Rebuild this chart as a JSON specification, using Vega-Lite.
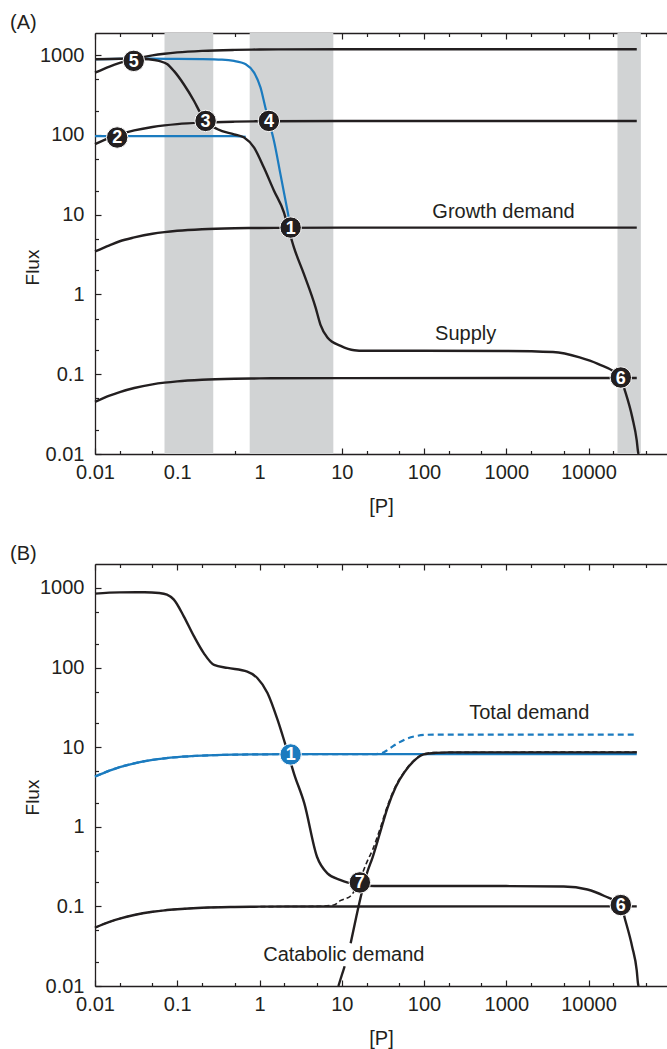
{
  "$schema": "https://vega.github.io/schema/vega-lite/v6.json",
  "padding": {"left": 10, "top": 13, "right": 0, "bottom": 5},
  "background": "white",
  "spacing": 110,
  "bounds": "flush",
  "datasets": {
    "bands": [
      {"x": 0.07, "x2": 0.274},
      {"x": 0.76, "x2": 7.9},
      {"x": 22500, "x2": 43300}
    ],
    "curves": [
      {"p":"A","s":"t1200","x":0.01,"y":604},{"p":"A","s":"t1200","x":0.015,"y":722},{"p":"A","s":"t1200","x":0.02,"y":801},{"p":"A","s":"t1200","x":0.03,"y":899},{"p":"A","s":"t1200","x":0.05,"y":997},{"p":"A","s":"t1200","x":0.07,"y":1045},{"p":"A","s":"t1200","x":0.1,"y":1085},{"p":"A","s":"t1200","x":0.2,"y":1135},{"p":"A","s":"t1200","x":0.5,"y":1167},{"p":"A","s":"t1200","x":1,"y":1179},{"p":"A","s":"t1200","x":10,"y":1189},{"p":"A","s":"t1200","x":38600,"y":1190},
      {"p":"A","s":"t150","x":0.01,"y":77},{"p":"A","s":"t150","x":0.015,"y":92},{"p":"A","s":"t150","x":0.02,"y":102},{"p":"A","s":"t150","x":0.03,"y":114},{"p":"A","s":"t150","x":0.05,"y":126},{"p":"A","s":"t150","x":0.07,"y":132},{"p":"A","s":"t150","x":0.1,"y":137},{"p":"A","s":"t150","x":0.2,"y":143},{"p":"A","s":"t150","x":0.5,"y":147},{"p":"A","s":"t150","x":1,"y":148.6},{"p":"A","s":"t150","x":10,"y":150},{"p":"A","s":"t150","x":38600,"y":150},
      {"p":"A","s":"grow","x":0.01,"y":3.47},{"p":"A","s":"grow","x":0.015,"y":4.14},{"p":"A","s":"grow","x":0.02,"y":4.65},{"p":"A","s":"grow","x":0.03,"y":5.19},{"p":"A","s":"grow","x":0.05,"y":5.78},{"p":"A","s":"grow","x":0.07,"y":6.06},{"p":"A","s":"grow","x":0.1,"y":6.29},{"p":"A","s":"grow","x":0.2,"y":6.58},{"p":"A","s":"grow","x":0.5,"y":6.77},{"p":"A","s":"grow","x":1,"y":6.83},{"p":"A","s":"grow","x":10,"y":6.89},{"p":"A","s":"grow","x":38600,"y":6.9},
      {"p":"A","s":"low","x":0.01,"y":0.045},{"p":"A","s":"low","x":0.015,"y":0.0538},{"p":"A","s":"low","x":0.02,"y":0.0598},{"p":"A","s":"low","x":0.03,"y":0.0672},{"p":"A","s":"low","x":0.05,"y":0.0747},{"p":"A","s":"low","x":0.07,"y":0.0784},{"p":"A","s":"low","x":0.1,"y":0.0815},{"p":"A","s":"low","x":0.2,"y":0.0853},{"p":"A","s":"low","x":0.5,"y":0.0878},{"p":"A","s":"low","x":1,"y":0.0887},{"p":"A","s":"low","x":10,"y":0.0895},{"p":"A","s":"low","x":38600,"y":0.0896},
      {"p":"A","s":"sup","x":0.01,"y":890},{"p":"A","s":"sup","x":0.02,"y":905},{"p":"A","s":"sup","x":0.03,"y":905},{"p":"A","s":"sup","x":0.045,"y":890},{"p":"A","s":"sup","x":0.06,"y":850},{"p":"A","s":"sup","x":0.076,"y":771},{"p":"A","s":"sup","x":0.091,"y":636},{"p":"A","s":"sup","x":0.12,"y":433},{"p":"A","s":"sup","x":0.16,"y":267},{"p":"A","s":"sup","x":0.19,"y":191},{"p":"A","s":"sup","x":0.22,"y":150},{"p":"A","s":"sup","x":0.31,"y":118},{"p":"A","s":"sup","x":0.49,"y":102},{"p":"A","s":"sup","x":0.65,"y":93},{"p":"A","s":"sup","x":0.86,"y":69.5},{"p":"A","s":"sup","x":1.13,"y":39},{"p":"A","s":"sup","x":1.5,"y":20},{"p":"A","s":"sup","x":1.98,"y":10.7},{"p":"A","s":"sup","x":2.23,"y":6.9},{"p":"A","s":"sup","x":2.62,"y":3.9},{"p":"A","s":"sup","x":3.47,"y":1.8},{"p":"A","s":"sup","x":4.8,"y":0.69},{"p":"A","s":"sup","x":5.5,"y":0.42},{"p":"A","s":"sup","x":6.7,"y":0.289},{"p":"A","s":"sup","x":9.7,"y":0.227},{"p":"A","s":"sup","x":14.2,"y":0.2},{"p":"A","s":"sup","x":18.7,"y":0.197},{"p":"A","s":"sup","x":100,"y":0.197},{"p":"A","s":"sup","x":1000,"y":0.196},{"p":"A","s":"sup","x":3700,"y":0.19},{"p":"A","s":"sup","x":7800,"y":0.163},{"p":"A","s":"sup","x":13000,"y":0.135},{"p":"A","s":"sup","x":24700,"y":0.091},{"p":"A","s":"sup","x":27000,"y":0.068},{"p":"A","s":"sup","x":34000,"y":0.029},{"p":"A","s":"sup","x":38600,"y":0.0147},{"p":"A","s":"sup","x":40000,"y":0.0107},{"p":"A","s":"sup","x":40500,"y":0.01},
      {"p":"A","s":"bhi","x":0.01,"y":890},{"p":"A","s":"bhi","x":0.02,"y":900},{"p":"A","s":"bhi","x":0.05,"y":905},{"p":"A","s":"bhi","x":0.1,"y":900},{"p":"A","s":"bhi","x":0.2,"y":895},{"p":"A","s":"bhi","x":0.35,"y":880},{"p":"A","s":"bhi","x":0.49,"y":848},{"p":"A","s":"bhi","x":0.6,"y":810},{"p":"A","s":"bhi","x":0.68,"y":770},{"p":"A","s":"bhi","x":0.86,"y":605},{"p":"A","s":"bhi","x":1.03,"y":392},{"p":"A","s":"bhi","x":1.18,"y":220},{"p":"A","s":"bhi","x":1.3,"y":150},{"p":"A","s":"bhi","x":1.5,"y":84},{"p":"A","s":"bhi","x":1.8,"y":32},{"p":"A","s":"bhi","x":2.15,"y":12.3},{"p":"A","s":"bhi","x":2.39,"y":6.9},
      {"p":"A","s":"blo","x":0.01,"y":97},{"p":"A","s":"blo","x":0.1,"y":97},{"p":"A","s":"blo","x":0.5,"y":97},{"p":"A","s":"blo","x":0.68,"y":95},
      {"p":"B","s":"sup","x":0.01,"y":850},{"p":"B","s":"sup","x":0.02,"y":880},{"p":"B","s":"sup","x":0.04,"y":885},{"p":"B","s":"sup","x":0.06,"y":865},{"p":"B","s":"sup","x":0.075,"y":824},{"p":"B","s":"sup","x":0.091,"y":713},{"p":"B","s":"sup","x":0.12,"y":440},{"p":"B","s":"sup","x":0.16,"y":246},{"p":"B","s":"sup","x":0.21,"y":152},{"p":"B","s":"sup","x":0.28,"y":108},{"p":"B","s":"sup","x":0.41,"y":99},{"p":"B","s":"sup","x":0.71,"y":89},{"p":"B","s":"sup","x":0.94,"y":74},{"p":"B","s":"sup","x":1.25,"y":48},{"p":"B","s":"sup","x":1.66,"y":22},{"p":"B","s":"sup","x":1.98,"y":12.4},{"p":"B","s":"sup","x":2.25,"y":8.0},{"p":"B","s":"sup","x":2.62,"y":4.7},{"p":"B","s":"sup","x":3.5,"y":1.98},{"p":"B","s":"sup","x":5.0,"y":0.42},{"p":"B","s":"sup","x":6.7,"y":0.26},{"p":"B","s":"sup","x":9.7,"y":0.214},{"p":"B","s":"sup","x":11.6,"y":0.2},{"p":"B","s":"sup","x":16.6,"y":0.185},{"p":"B","s":"sup","x":25,"y":0.18},{"p":"B","s":"sup","x":100,"y":0.18},{"p":"B","s":"sup","x":1000,"y":0.18},{"p":"B","s":"sup","x":5000,"y":0.178},{"p":"B","s":"sup","x":9700,"y":0.163},{"p":"B","s":"sup","x":15600,"y":0.135},{"p":"B","s":"sup","x":24700,"y":0.104},{"p":"B","s":"sup","x":28000,"y":0.067},{"p":"B","s":"sup","x":34000,"y":0.031},{"p":"B","s":"sup","x":38600,"y":0.0156},{"p":"B","s":"sup","x":40000,"y":0.0107},{"p":"B","s":"sup","x":40500,"y":0.01},
      {"p":"B","s":"ghi","x":0.01,"y":4.27},{"p":"B","s":"ghi","x":0.015,"y":5.08},{"p":"B","s":"ghi","x":0.02,"y":5.62},{"p":"B","s":"ghi","x":0.03,"y":6.27},{"p":"B","s":"ghi","x":0.05,"y":6.93},{"p":"B","s":"ghi","x":0.07,"y":7.25},{"p":"B","s":"ghi","x":0.1,"y":7.51},{"p":"B","s":"ghi","x":0.2,"y":7.84},{"p":"B","s":"ghi","x":0.5,"y":8.05},{"p":"B","s":"ghi","x":1,"y":8.13},{"p":"B","s":"ghi","x":10,"y":8.19},{"p":"B","s":"ghi","x":38600,"y":8.2},
      {"p":"B","s":"thi","x":0.01,"y":4.27},{"p":"B","s":"thi","x":0.015,"y":5.08},{"p":"B","s":"thi","x":0.02,"y":5.62},{"p":"B","s":"thi","x":0.03,"y":6.27},{"p":"B","s":"thi","x":0.05,"y":6.93},{"p":"B","s":"thi","x":0.07,"y":7.25},{"p":"B","s":"thi","x":0.1,"y":7.51},{"p":"B","s":"thi","x":0.2,"y":7.84},{"p":"B","s":"thi","x":0.5,"y":8.05},{"p":"B","s":"thi","x":1,"y":8.13},{"p":"B","s":"thi","x":10,"y":8.19},{"p":"B","s":"thi","x":25,"y":8.2},{"p":"B","s":"thi","x":30,"y":8.35},{"p":"B","s":"thi","x":36,"y":9.2},{"p":"B","s":"thi","x":42,"y":10.3},{"p":"B","s":"thi","x":50,"y":11.5},{"p":"B","s":"thi","x":63,"y":12.9},{"p":"B","s":"thi","x":80,"y":13.8},{"p":"B","s":"thi","x":107,"y":14.3},{"p":"B","s":"thi","x":150,"y":14.4},{"p":"B","s":"thi","x":38600,"y":14.4},
      {"p":"B","s":"glo","x":0.01,"y":0.054},{"p":"B","s":"glo","x":0.015,"y":0.0638},{"p":"B","s":"glo","x":0.02,"y":0.0702},{"p":"B","s":"glo","x":0.03,"y":0.078},{"p":"B","s":"glo","x":0.05,"y":0.0855},{"p":"B","s":"glo","x":0.07,"y":0.0892},{"p":"B","s":"glo","x":0.1,"y":0.0921},{"p":"B","s":"glo","x":0.2,"y":0.096},{"p":"B","s":"glo","x":0.5,"y":0.0983},{"p":"B","s":"glo","x":1,"y":0.0992},{"p":"B","s":"glo","x":10,"y":0.0999},{"p":"B","s":"glo","x":38600,"y":0.1},
      {"p":"B","s":"tlo","x":0.01,"y":0.054},{"p":"B","s":"tlo","x":0.015,"y":0.0638},{"p":"B","s":"tlo","x":0.02,"y":0.0702},{"p":"B","s":"tlo","x":0.03,"y":0.078},{"p":"B","s":"tlo","x":0.05,"y":0.0855},{"p":"B","s":"tlo","x":0.07,"y":0.0892},{"p":"B","s":"tlo","x":0.1,"y":0.0921},{"p":"B","s":"tlo","x":0.2,"y":0.096},{"p":"B","s":"tlo","x":0.5,"y":0.0983},{"p":"B","s":"tlo","x":1,"y":0.0992},{"p":"B","s":"tlo","x":5,"y":0.1},{"p":"B","s":"tlo","x":8,"y":0.104},{"p":"B","s":"tlo","x":9.6,"y":0.118},{"p":"B","s":"tlo","x":12.83,"y":0.135},{"p":"B","s":"tlo","x":15.18,"y":0.178},{"p":"B","s":"tlo","x":17.46,"y":0.247},{"p":"B","s":"tlo","x":20.09,"y":0.355},{"p":"B","s":"tlo","x":23.77,"y":0.517},{"p":"B","s":"tlo","x":28.9,"y":0.911},{"p":"B","s":"tlo","x":35.9,"y":1.82},{"p":"B","s":"tlo","x":45.3,"y":3.27},{"p":"B","s":"tlo","x":58.2,"y":4.99},{"p":"B","s":"tlo","x":75.5,"y":6.83},{"p":"B","s":"tlo","x":99.1,"y":8.21},{"p":"B","s":"tlo","x":138.7,"y":8.58},{"p":"B","s":"tlo","x":38600,"y":8.7},
      {"p":"B","s":"cat1","x":9.1,"y":0.01},{"p":"B","s":"cat1","x":10.84,"y":0.0177},
      {"p":"B","s":"cat2","x":12.83,"y":0.0345},{"p":"B","s":"cat2","x":15.18,"y":0.0778},{"p":"B","s":"cat2","x":17.46,"y":0.147},{"p":"B","s":"cat2","x":20.09,"y":0.255},{"p":"B","s":"cat2","x":23.77,"y":0.417},{"p":"B","s":"cat2","x":28.9,"y":0.811},{"p":"B","s":"cat2","x":35.9,"y":1.72},{"p":"B","s":"cat2","x":45.3,"y":3.17},{"p":"B","s":"cat2","x":58.2,"y":4.89},{"p":"B","s":"cat2","x":75.5,"y":6.73},{"p":"B","s":"cat2","x":99.1,"y":8.11},{"p":"B","s":"cat2","x":138.7,"y":8.48},{"p":"B","s":"cat2","x":200,"y":8.6},{"p":"B","s":"cat2","x":38600,"y":8.6}
    ],
    "pts": [
      {"p":"A","n":"5","x":0.0296,"y":850},
      {"p":"A","n":"2","x":0.0186,"y":93},
      {"p":"A","n":"3","x":0.221,"y":150},
      {"p":"A","n":"4","x":1.3,"y":150},
      {"p":"A","n":"1","x":2.39,"y":6.9},
      {"p":"A","n":"6","x":24700,"y":0.091},
      {"p":"B","n":"1","x":2.39,"y":8.1},
      {"p":"B","n":"7","x":16.6,"y":0.2},
      {"p":"B","n":"6","x":24700,"y":0.104}
    ],
    "notes": [
      {"p":"A","t":"Growth demand","x":925,"y":10.7},
      {"p":"A","t":"Supply","x":321,"y":0.322},
      {"p":"B","t":"Total demand","x":1905,"y":27.2},
      {"p":"B","t":"Catabolic demand","x":10.6,"y":0.0244}
    ]
  },
  "vconcat": [
    {
      "width": 572,
      "height": 421,
      "title": {"text": "(A)", "anchor": "start", "frame": "group", "dx": -85, "dy": 20, "offset": 3, "baseline": "alphabetic", "fontSize": 20, "fontWeight": "normal", "font": "Liberation Sans", "color": "#231f20"},
      "resolve": {"axis": {"x": "independent", "y": "independent"}},
      "layer": [
        {
          "data": {"name": "bands"},
          "mark": {"type": "rect", "color": "#d1d3d4"},
          "encoding": {
            "x": {"field": "x", "type": "quantitative", "scale": {"type": "log", "domain": [0.01, 90000], "nice": false},
              "axis": {"orient": "bottom", "values": [0.01,0.02,0.05,0.1,0.2,0.5,1,2,5,10,20,50,100,200,500,1000,2000,5000,10000,20000,50000],
                "labelExpr": "abs(log(datum.value)/LN10-round(log(datum.value)/LN10))<0.001 ? ''+datum.value : ''",
                "tickSize": {"condition": {"test": "abs(log(datum.value)/LN10-round(log(datum.value)/LN10))<0.001", "value": -6}, "value": -3.5},
                "labelPadding": 14, "labelFlush": false, "labelOverlap": false,
                "title": "[P]", "titleY": 58, "titleBaseline": "alphabetic", "titleFontSize": 20}},
            "x2": {"field": "x2"}
          }
        },
        {
          "data": {"name": "curves"},
          "transform": [{"filter": "datum.p === 'A' && (datum.s === 'bhi' || datum.s === 'blo')"}],
          "mark": {"type": "line", "color": "#1b7bbf", "strokeWidth": 2.2, "interpolate": "monotone"},
          "encoding": {
            "x": {"field": "x", "type": "quantitative", "scale": {"type": "log", "domain": [0.01, 90000], "nice": false},
              "axis": {"orient": "top", "values": [0.01,0.02,0.05,0.1,0.2,0.5,1,2,5,10,20,50,100,200,500,1000,2000,5000,10000,20000,50000],
                "labels": false, "title": null,
                "tickSize": {"condition": {"test": "abs(log(datum.value)/LN10-round(log(datum.value)/LN10))<0.001", "value": -6}, "value": -3.5}}},
            "y": {"field": "y", "type": "quantitative", "scale": {"type": "log", "domain": [0.01, 1900], "nice": false},
              "axis": {"orient": "left", "values": [0.01,0.02,0.05,0.1,0.2,0.5,1,2,5,10,20,50,100,200,500,1000],
                "labelExpr": "abs(log(datum.value)/LN10-round(log(datum.value)/LN10))<0.001 ? ''+datum.value : ''",
                "tickSize": {"condition": {"test": "abs(log(datum.value)/LN10-round(log(datum.value)/LN10))<0.001", "value": -6}, "value": -3.5},
                "labelPadding": 17, "labelOverlap": false, "labelFlush": false,
                "title": "Flux", "titleX": -57, "titleY": 234, "titleBaseline": "alphabetic", "titleAlign": "center"}},
            "detail": {"field": "s"}
          }
        },
        {
          "data": {"name": "curves"},
          "transform": [{"filter": "datum.p === 'A' && datum.s !== 'bhi' && datum.s !== 'blo'"}],
          "mark": {"type": "line", "color": "#231f20", "strokeWidth": 2.4, "interpolate": "monotone"},
          "encoding": {
            "x": {"field": "x", "type": "quantitative", "axis": null},
            "y": {"field": "y", "type": "quantitative", "axis": null},
            "detail": {"field": "s"}
          }
        },
        {
          "data": {"name": "pts"},
          "transform": [{"filter": "datum.p === 'A'"}],
          "mark": {"type": "point", "shape": "circle", "filled": true, "size": 460, "opacity": 1, "fill": "#231f20", "stroke": "white", "strokeWidth": 1},
          "encoding": {
            "x": {"field": "x", "type": "quantitative", "axis": null},
            "y": {"field": "y", "type": "quantitative", "axis": null}
          }
        },
        {
          "data": {"name": "pts"},
          "transform": [{"filter": "datum.p === 'A'"}],
          "mark": {"type": "text", "color": "white", "font": "Liberation Sans", "fontSize": 18, "fontWeight": "bold", "align": "center", "baseline": "middle", "dy": 1},
          "encoding": {
            "x": {"field": "x", "type": "quantitative", "axis": null},
            "y": {"field": "y", "type": "quantitative", "axis": null},
            "text": {"field": "n"}
          }
        },
        {
          "data": {"name": "notes"},
          "transform": [{"filter": "datum.p === 'A'"}],
          "mark": {"type": "text", "color": "#231f20", "font": "Liberation Sans", "fontSize": 20, "align": "center", "baseline": "middle"},
          "encoding": {
            "x": {"field": "x", "type": "quantitative", "axis": null},
            "y": {"field": "y", "type": "quantitative", "axis": null},
            "text": {"field": "t"}
          }
        }
      ]
    },
    {
      "width": 572,
      "height": 422,
      "title": {"text": "(B)", "anchor": "start", "frame": "group", "dx": -85, "dy": 20, "offset": 3, "baseline": "alphabetic", "fontSize": 20, "fontWeight": "normal", "font": "Liberation Sans", "color": "#231f20"},
      "resolve": {"axis": {"x": "independent", "y": "independent"}},
      "layer": [
        {
          "data": {"name": "curves"},
          "transform": [{"filter": "datum.p === 'B' && datum.s === 'ghi'"}],
          "mark": {"type": "line", "color": "#1b7bbf", "strokeWidth": 2.2, "interpolate": "monotone"},
          "encoding": {
            "x": {"field": "x", "type": "quantitative", "scale": {"type": "log", "domain": [0.01, 90000], "nice": false},
              "axis": {"orient": "bottom", "values": [0.01,0.02,0.05,0.1,0.2,0.5,1,2,5,10,20,50,100,200,500,1000,2000,5000,10000,20000,50000],
                "labelExpr": "abs(log(datum.value)/LN10-round(log(datum.value)/LN10))<0.001 ? ''+datum.value : ''",
                "tickSize": {"condition": {"test": "abs(log(datum.value)/LN10-round(log(datum.value)/LN10))<0.001", "value": -6}, "value": -3.5},
                "labelPadding": 14, "labelFlush": false, "labelOverlap": false,
                "title": "[P]", "titleY": 58, "titleBaseline": "alphabetic", "titleFontSize": 20}},
            "y": {"field": "y", "type": "quantitative", "scale": {"type": "log", "domain": [0.01, 2000], "nice": false},
              "axis": {"orient": "left", "values": [0.01,0.02,0.05,0.1,0.2,0.5,1,2,5,10,20,50,100,200,500,1000],
                "labelExpr": "abs(log(datum.value)/LN10-round(log(datum.value)/LN10))<0.001 ? ''+datum.value : ''",
                "tickSize": {"condition": {"test": "abs(log(datum.value)/LN10-round(log(datum.value)/LN10))<0.001", "value": -6}, "value": -3.5},
                "labelPadding": 17, "labelOverlap": false, "labelFlush": false,
                "title": "Flux", "titleX": -57, "titleY": 233, "titleBaseline": "alphabetic", "titleAlign": "center"}},
            "detail": {"field": "s"}
          }
        },
        {
          "data": {"name": "curves"},
          "transform": [{"filter": "datum.p === 'B' && datum.s === 'thi'"}],
          "mark": {"type": "line", "color": "#1b7bbf", "strokeWidth": 2.2, "strokeDash": [6, 4], "interpolate": "monotone"},
          "encoding": {
            "x": {"field": "x", "type": "quantitative",
              "axis": {"orient": "top", "values": [0.01,0.02,0.05,0.1,0.2,0.5,1,2,5,10,20,50,100,200,500,1000,2000,5000,10000,20000,50000],
                "labels": false, "title": null,
                "tickSize": {"condition": {"test": "abs(log(datum.value)/LN10-round(log(datum.value)/LN10))<0.001", "value": -6}, "value": -3.5}}},
            "y": {"field": "y", "type": "quantitative", "axis": null},
            "detail": {"field": "s"}
          }
        },
        {
          "data": {"name": "curves"},
          "transform": [{"filter": "datum.p === 'B' && (datum.s === 'sup' || datum.s === 'glo' || datum.s === 'cat1' || datum.s === 'cat2')"}],
          "mark": {"type": "line", "color": "#231f20", "strokeWidth": 2.4, "interpolate": "monotone"},
          "encoding": {
            "x": {"field": "x", "type": "quantitative", "axis": null},
            "y": {"field": "y", "type": "quantitative", "axis": null},
            "detail": {"field": "s"}
          }
        },
        {
          "data": {"name": "curves"},
          "transform": [{"filter": "datum.p === 'B' && datum.s === 'tlo'"}],
          "mark": {"type": "line", "color": "#231f20", "strokeWidth": 1.6, "strokeDash": [5, 3], "interpolate": "monotone"},
          "encoding": {
            "x": {"field": "x", "type": "quantitative", "axis": null},
            "y": {"field": "y", "type": "quantitative", "axis": null},
            "detail": {"field": "s"}
          }
        },
        {
          "data": {"name": "pts"},
          "transform": [{"filter": "datum.p === 'B'"}],
          "mark": {"type": "point", "shape": "circle", "filled": true, "size": 460, "opacity": 1, "stroke": "white", "strokeWidth": 1},
          "encoding": {
            "x": {"field": "x", "type": "quantitative", "axis": null},
            "y": {"field": "y", "type": "quantitative", "axis": null},
            "fill": {"condition": {"test": "datum.n === '1'", "value": "#1b7bbf"}, "value": "#231f20"}
          }
        },
        {
          "data": {"name": "pts"},
          "transform": [{"filter": "datum.p === 'B'"}],
          "mark": {"type": "text", "color": "white", "font": "Liberation Sans", "fontSize": 18, "fontWeight": "bold", "align": "center", "baseline": "middle", "dy": 1},
          "encoding": {
            "x": {"field": "x", "type": "quantitative", "axis": null},
            "y": {"field": "y", "type": "quantitative", "axis": null},
            "text": {"field": "n"}
          }
        },
        {
          "data": {"name": "notes"},
          "transform": [{"filter": "datum.p === 'B'"}],
          "mark": {"type": "text", "color": "#231f20", "font": "Liberation Sans", "fontSize": 20, "align": "center", "baseline": "middle"},
          "encoding": {
            "x": {"field": "x", "type": "quantitative", "axis": null},
            "y": {"field": "y", "type": "quantitative", "axis": null},
            "text": {"field": "t"}
          }
        }
      ]
    }
  ],
  "config": {
    "view": {"stroke": null},
    "font": "Liberation Sans",
    "axis": {"domainColor": "#231f20", "tickColor": "#231f20", "labelColor": "#231f20", "titleColor": "#231f20", "labelFont": "Liberation Sans", "titleFont": "Liberation Sans", "labelFontSize": 20, "titleFontSize": 19, "titleFontWeight": "normal", "grid": false, "domainWidth": 1.3, "tickWidth": 1.2, "zindex": 1}
  }
}
